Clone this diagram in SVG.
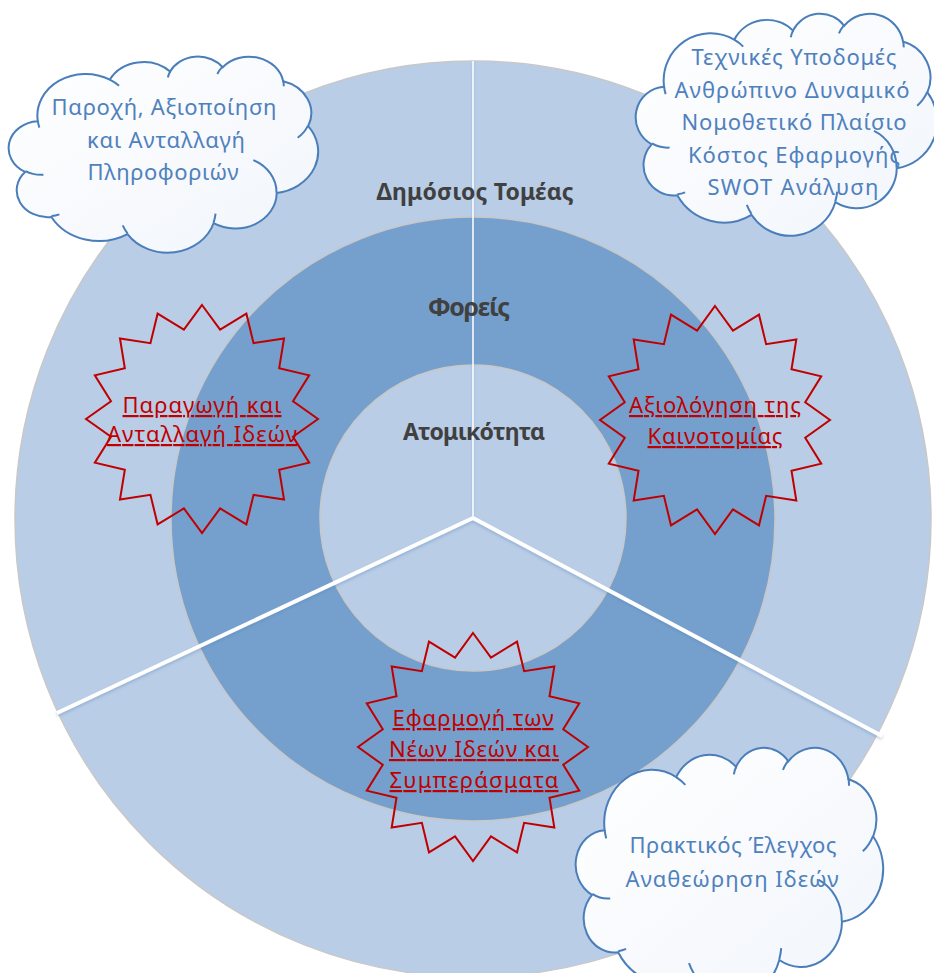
<svg xmlns="http://www.w3.org/2000/svg" xmlns:xlink="http://www.w3.org/1999/xlink" width="934" height="973" viewBox="0 0 934 973">
  <defs>
    <style>
      .ring { stroke: #c8c8c8; stroke-width: 1.5; }
      .light { fill: #b9cde6; }
      .mid { fill: #75a0cd; }
      .divider { stroke: #ffffff; fill: none; stroke-linecap: butt; }
      .lbl { font-family: "Noto Sans", "DejaVu Sans", sans-serif; font-weight: bold; font-size: 23px; fill: #404040; text-anchor: middle; }
      .lbl-big { font-size: 25px; }
      .cloud-shape { fill: url(#cloudFill); stroke: #4a7ebb; stroke-width: 2; }
      .cloud-hint { fill: none; stroke: #4a7ebb; stroke-width: 2; }
      .cloud-text { font-family: "Noto Sans", "DejaVu Sans", sans-serif; font-size: 22px; fill: #4f81bd; text-anchor: middle; }
      .star-shape { fill: none; stroke: #c00000; stroke-width: 2; stroke-linejoin: miter; }
      .star-text { font-family: "Noto Sans", "DejaVu Sans", sans-serif; font-size: 22px; fill: #c00000; text-anchor: middle; text-decoration: underline; }
    </style>
    <linearGradient id="cloudFill" x1="0" y1="0" x2="1" y2="1">
      <stop offset="0" stop-color="#ffffff"/>
      <stop offset="1" stop-color="#f1f5fb"/>
    </linearGradient>
    <filter id="lineGlow" x="-10%" y="-10%" width="120%" height="120%">
      <feGaussianBlur in="SourceAlpha" stdDeviation="1.5"/>
      <feOffset dx="0" dy="1.5" result="b"/>
      <feFlood flood-color="#4f7fb5" flood-opacity="0.35"/>
      <feComposite in2="b" operator="in"/>
      <feMerge><feMergeNode/><feMergeNode in="SourceGraphic"/></feMerge>
    </filter>
    <!-- cloud outline in a 100 x 100 box -->
    <g id="cloud">
      <path class="cloud-shape" vector-effect="non-scaling-stroke" d="M 9.03 33.26 A 15.63 21.27 0 0 1 32.42 12.04 A 12.34 16.82 0 0 1 51.98 7.95 A 10.10 13.76 0 0 1 69.06 5.74 A 11.24 15.27 0 0 1 88.70 12.91 A 12.34 16.84 0 0 1 96.81 35.79 A 15.68 21.34 0 0 1 86.59 69.92 A 13.39 18.21 0 0 1 66.11 85.22 A 15.63 21.33 0 0 1 38.15 90.89 A 17.87 24.41 0 0 1 13.44 82.12 A 10.09 13.70 0 0 1 4.90 59.15 A 10.06 13.76 0 0 1 9.03 33.26 Z"/>
      <path class="cloud-hint" vector-effect="non-scaling-stroke" d="M 10.86 60.60 A 10.06 13.76 0 0 1 5.00 58.75 M 16.04 80.78 A 10.09 13.70 0 0 1 13.47 81.67 M 38.14 90.49 A 15.63 21.33 0 0 1 36.60 86.46 M 66.73 80.44 A 15.63 21.33 0 0 1 66.11 84.86 M 79.00 53.13 A 13.39 18.21 0 0 1 86.53 69.65 M 96.75 35.54 A 12.34 16.84 0 0 1 93.40 41.74 M 88.71 12.56 A 11.24 15.27 0 0 1 88.89 15.48 M 67.31 9.15 A 11.24 15.27 0 0 1 69.03 5.42 M 51.25 10.93 A 10.10 13.76 0 0 1 52.08 7.71 M 32.41 12.02 A 15.63 21.27 0 0 1 35.41 15.14 M 9.55 36.55 A 15.63 21.27 0 0 1 9.03 33.26"/>
    </g>
    <!-- sixteen-point star, outer radius 100 -->
    <path id="star16" class="star-shape" vector-effect="non-scaling-stroke" d="M0,-100 L15.61,-78.46 L38.27,-92.39 L44.45,-66.52 L70.71,-70.71 L66.52,-44.45 L92.39,-38.27 L78.46,-15.61 L100,0 L78.46,15.61 L92.39,38.27 L66.52,44.45 L70.71,70.71 L44.45,66.52 L38.27,92.39 L15.61,78.46 L0,100 L-15.61,78.46 L-38.27,92.39 L-44.45,66.52 L-70.71,70.71 L-66.52,44.45 L-92.39,38.27 L-78.46,15.61 L-100,0 L-78.46,-15.61 L-92.39,-38.27 L-66.52,-44.45 L-70.71,-70.71 L-44.45,-66.52 L-38.27,-92.39 L-15.61,-78.46 Z"/>
  </defs>

  <rect width="934" height="973" fill="#ffffff"/>

  <!-- concentric rings -->
  <g id="rings">
    <circle id="ring-public" class="ring light" cx="473" cy="519" r="458"/>
    <circle id="ring-bodies" class="ring mid" cx="473" cy="519" r="302"/>
    <circle id="ring-individual" class="ring light" cx="473" cy="518" r="153"/>
  </g>

  <!-- sector dividers -->
  <g id="dividers" filter="url(#lineGlow)">
    <line class="divider" x1="473" y1="519" x2="473" y2="61" stroke-width="1.5"/>
    <line class="divider" x1="473" y1="518" x2="57" y2="713" stroke-width="4"/>
    <line class="divider" x1="473" y1="518" x2="882" y2="736" stroke-width="4"/>
  </g>

  <!-- ring labels -->
  <g id="labels">
    <text class="lbl" x="475" y="200" textLength="197">Δημόσιος Τομέας</text>
    <text class="lbl lbl-big" x="469" y="316" textLength="82">Φορείς</text>
    <text class="lbl" x="474" y="440" textLength="142">Ατομικότητα</text>
  </g>

  <!-- starbursts -->
  <g id="star-ideas">
    <use xlink:href="#star16" transform="translate(202,419) scale(1.16,1.14)"/>
    <text class="star-text" x="202" y="413" textLength="159">Παραγωγή και</text>
    <text class="star-text" x="202" y="442" textLength="190">Ανταλλαγή Ιδεών</text>
  </g>
  <g id="star-evaluation">
    <use xlink:href="#star16" transform="translate(715,420) scale(1.15,1.14)"/>
    <text class="star-text" x="715" y="413" textLength="172">Αξιολόγηση της</text>
    <text class="star-text" x="715" y="444" textLength="135">Καινοτομίας</text>
  </g>
  <g id="star-application">
    <use xlink:href="#star16" transform="translate(473,747) scale(1.15,1.14)"/>
    <text class="star-text" x="473" y="726" textLength="161">Εφαρμογή των</text>
    <text class="star-text" x="474" y="757" textLength="170">Νέων Ιδεών και</text>
    <text class="star-text" x="474" y="788" textLength="169">Συμπεράσματα</text>
  </g>

  <!-- callout clouds -->
  <g id="cloud-information">
    <use xlink:href="#cloud" transform="translate(10,56) scale(3.08,1.96)"/>
    <text class="cloud-text" x="164" y="115" textLength="225">Παροχή, Αξιοποίηση</text>
    <text class="cloud-text" x="166" y="148" textLength="158">και Ανταλλαγή</text>
    <text class="cloud-text" x="163" y="180" textLength="151">Πληροφοριών</text>
  </g>
  <g id="cloud-resources">
    <use xlink:href="#cloud" transform="translate(637,13) scale(3.0,2.22)"/>
    <text class="cloud-text" x="794" y="65" textLength="205">Τεχνικές Υποδομές</text>
    <text class="cloud-text" x="792" y="98" textLength="235">Ανθρώπινο Δυναμικό</text>
    <text class="cloud-text" x="794" y="130" textLength="225">Νομοθετικό Πλαίσιο</text>
    <text class="cloud-text" x="794" y="163" textLength="212">Κόστος Εφαρμογής</text>
    <text class="cloud-text" x="793" y="195" textLength="171">SWOT Ανάλυση</text>
  </g>
  <g id="cloud-review">
    <use xlink:href="#cloud" transform="translate(577,747) scale(3.06,2.5)"/>
    <text class="cloud-text" x="733" y="853" textLength="207">Πρακτικός Έλεγχος</text>
    <text class="cloud-text" x="732" y="887" textLength="213">Αναθεώρηση Ιδεών</text>
  </g>
</svg>
